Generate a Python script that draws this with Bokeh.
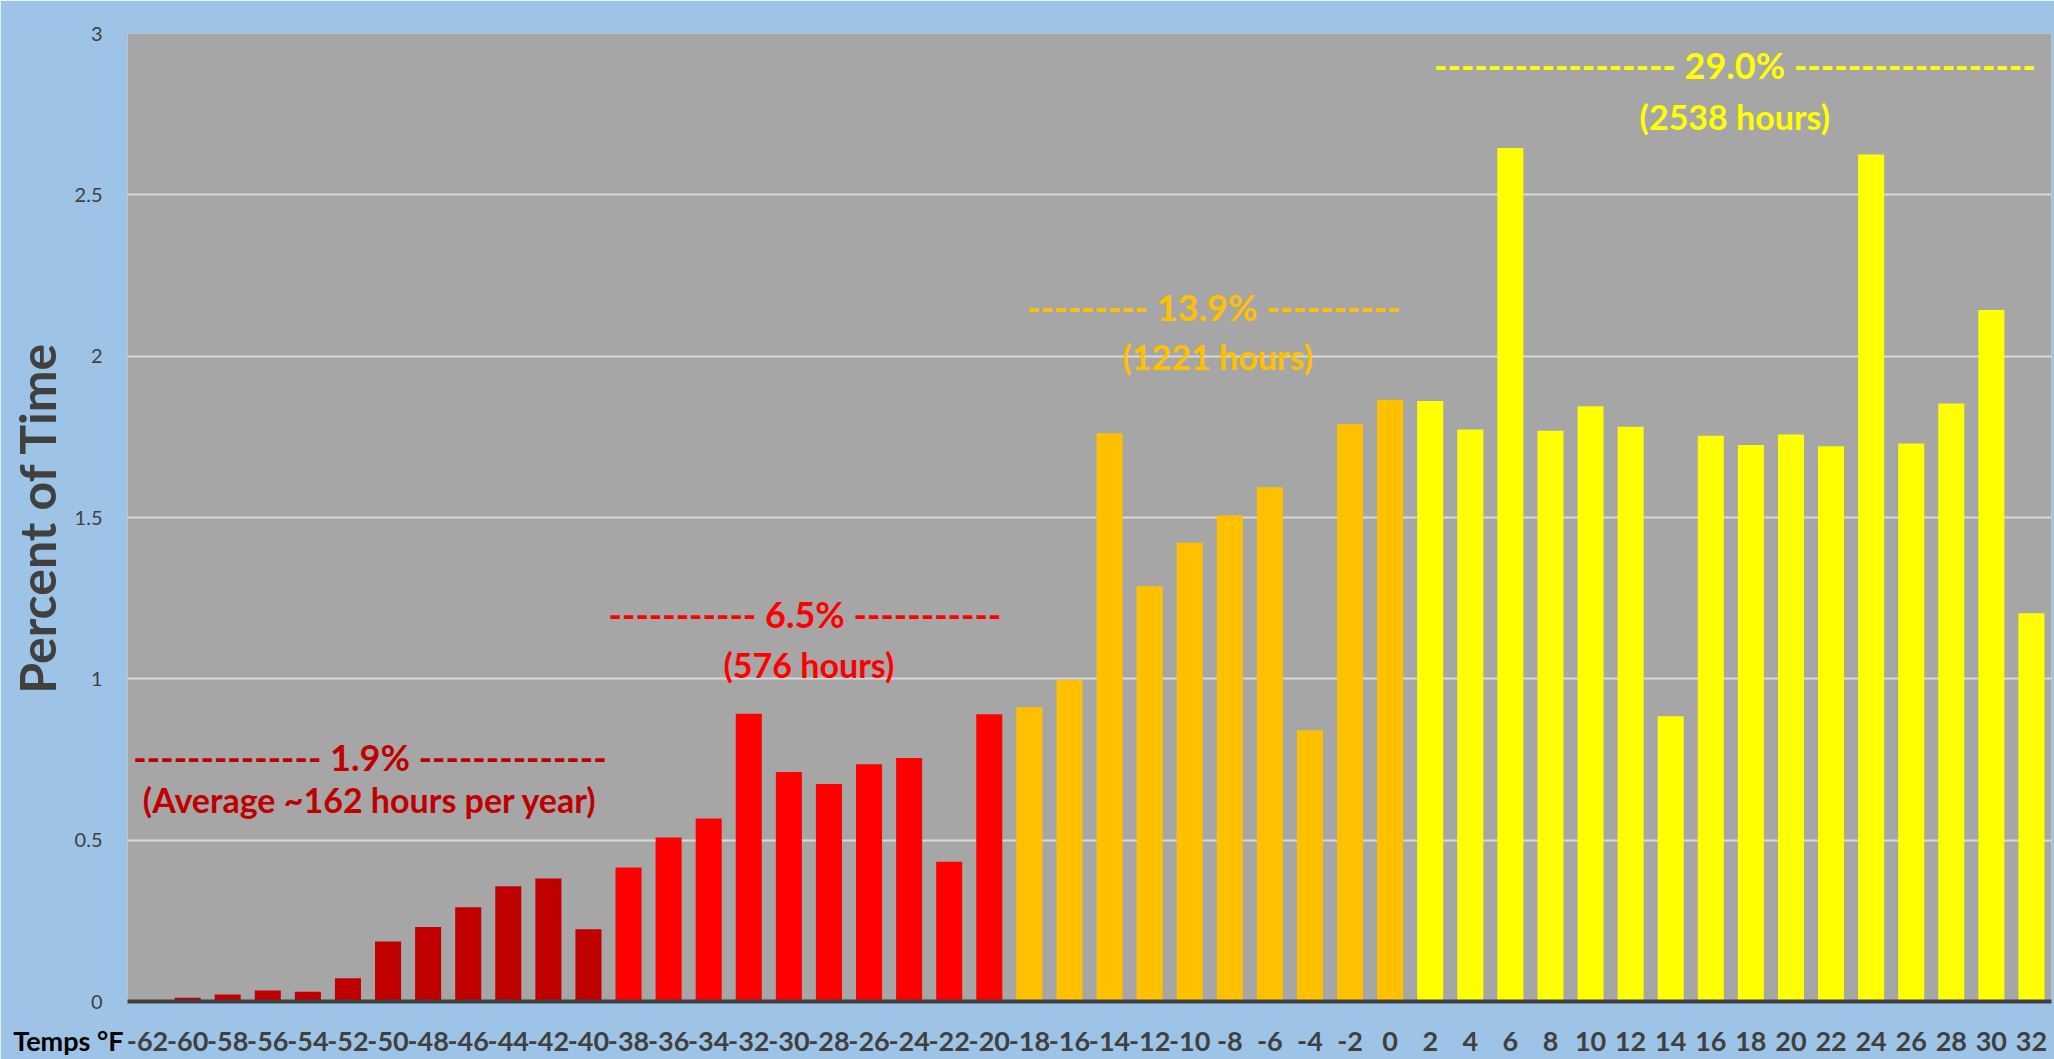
from bokeh.plotting import figure
from bokeh.models import ColumnDataSource, Label, FactorRange, Range1d, FixedTicker
from bokeh.embed import file_html
from bokeh.resources import INLINE

# ---- data ----
temps = ["-62", "-60", "-58", "-56", "-54", "-52", "-50", "-48", "-46", "-44", "-42", "-40",
         "-38", "-36", "-34", "-32", "-30", "-28", "-26", "-24", "-22", "-20",
         "-18", "-16", "-14", "-12", "-10", "-8", "-6", "-4", "-2", "0",
         "2", "4", "6", "8", "10", "12", "14", "16", "18", "20", "22", "24", "26", "28", "30", "32"]

percent = [0.0, 0.012, 0.022, 0.034, 0.030, 0.072, 0.186, 0.231, 0.292, 0.357, 0.381, 0.224,
           0.415, 0.508, 0.567, 0.892, 0.711, 0.674, 0.735, 0.755, 0.433, 0.890,
           0.912, 0.996, 1.761, 1.287, 1.422, 1.506, 1.594, 0.841, 1.789, 1.865,
           1.861, 1.773, 2.645, 1.769, 1.845, 1.781, 0.884, 1.753, 1.725, 1.757, 1.721,
           2.625, 1.729, 1.853, 2.143, 1.203]

band_sizes = [12, 10, 10, 16]
band_colors = ["#C00000", "#FF0000", "#FFC000", "#FFFF00"]
band_share = ["1.9%", "6.5%", "13.9%", "29.0%"]
band_hours = ["(Average ~162 hours per year)", "(576 hours)", "(1221 hours)", "(2538 hours)"]
band_dashes = [(14, 14), (11, 11), (9, 10), (18, 18)]

x_title = "Temps °F"
y_title = "Percent of Time"
y_ticks = [0, 0.5, 1, 1.5, 2, 2.5, 3]

colors = []
for n, c in zip(band_sizes, band_colors):
    colors += [c] * n

src = ColumnDataSource(dict(temp=temps, pct=percent, color=colors))

FONT = "Lato"

p = figure(width=2054, height=1059, x_range=FactorRange(*temps, range_padding=0),
           y_range=Range1d(0, 3), output_backend="svg", toolbar_location=None,
           min_border_left=127, min_border_right=3, min_border_top=0, min_border_bottom=58)

p.background_fill_color = "#A6A6A6"
p.border_fill_color = "#9DC3E6"
p.outline_line_color = None

p.vbar(x="temp", top="pct", width=0.65, source=src, fill_color="color", line_color=None)

# grid
p.xgrid.grid_line_color = None
p.ygrid.grid_line_color = "#D9D9D9"
p.ygrid.grid_line_width = 2
p.yaxis.ticker = FixedTicker(ticks=y_ticks)

# y axis
p.yaxis.axis_line_color = None
p.yaxis.major_tick_line_color = None
p.yaxis.minor_tick_line_color = None
p.yaxis.major_label_text_font = FONT
p.yaxis.major_label_text_font_size = "20px"
p.yaxis.major_label_text_color = "#404040"
p.yaxis.major_label_standoff = 19
p.yaxis.axis_label = y_title
p.yaxis.axis_label_text_font = FONT
p.yaxis.axis_label_text_font_style = "bold"
p.yaxis.axis_label_text_font_size = "50px"
p.yaxis.axis_label_text_color = "#404040"
p.yaxis.axis_label_standoff = 5

# x axis
p.xaxis.axis_line_color = "#404040"
p.xaxis.axis_line_width = 4
p.xaxis.major_tick_line_color = None
p.xaxis.minor_tick_line_color = None
p.xaxis.major_label_text_font = FONT
p.xaxis.major_label_text_font_style = "bold"
p.xaxis.major_label_text_font_size = "27px"
p.xaxis.major_label_text_color = "#404040"
p.xaxis.major_label_standoff = 24

# "Temps °F" at the left of the category labels. It lives in a side panel (so it is not
# clipped to the frame) but is positioned with the plot's own scales.
p.add_layout(Label(x=-0.1, y=-0.121, text=x_title,
                   text_align="right", text_baseline="middle",
                   text_font=FONT, text_font_style="bold", text_font_size="27px",
                   text_color="#000000"), "above")

# band annotations (positions in axis coordinates)
ann_pos = [(6.05, 0.758, 6.05, 0.625), (16.9, 1.200, 17.0, 1.043),
           (27.1, 2.151, 27.2, 1.998), (40.1, 2.902, 40.1, 2.744)]
for (x1, y1, x2, y2), c, share, hours, (dl, dr) in zip(ann_pos, band_colors, band_share, band_hours, band_dashes):
    line1 = "-" * dl + " " + share + " " + "-" * dr
    p.add_layout(Label(x=x1, y=y1, text=line1, text_align="center", text_baseline="middle",
                       text_font=FONT, text_font_style="bold", text_font_size="36px", text_color=c))
    p.add_layout(Label(x=x2, y=y2, text=hours, text_align="center", text_baseline="middle",
                       text_font=FONT, text_font_style="bold", text_font_size="34px", text_color=c))

open("out.html", "w").write(file_html(p, INLINE))
